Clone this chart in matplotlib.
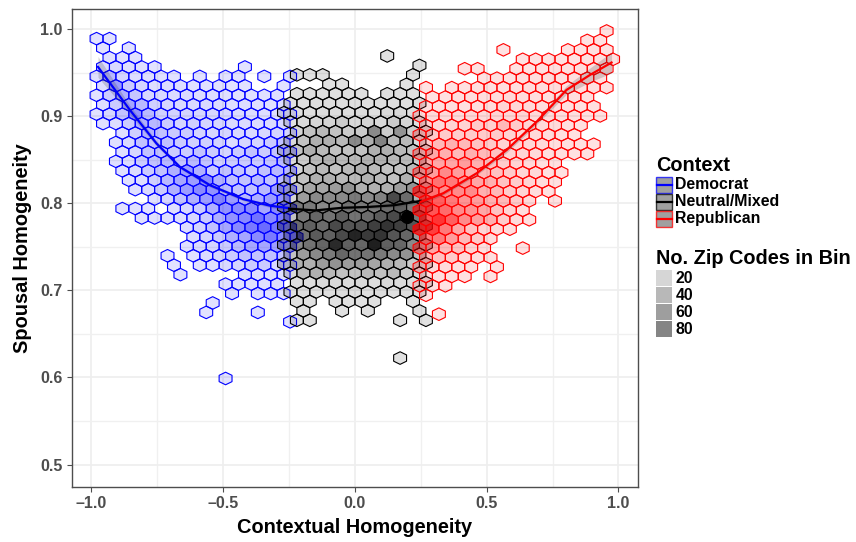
import matplotlib
matplotlib.use("Agg")

import matplotlib.pyplot as plt
import numpy as np
from matplotlib.collections import PolyCollection
from matplotlib.patches import Rectangle

plt.rcParams["font.family"] = ["Liberation Sans", "DejaVu Sans"]
plt.rcParams["font.weight"] = "bold"

# counts per hexagon, one list per bin row from the top, 0 = empty bin
blue_rows = [
    [3, 3],
    [5, 0, 3],
    [0, 8, 5, 3],
    [12, 15, 10, 6, 3, 0, 0, 0, 0, 0, 0, 3],
    [8, 35, 20, 12, 8, 5, 3, 0, 3, 0, 3, 3, 0, 3, 0, 3],
    [10, 50, 25, 18, 10, 12, 10, 8, 5, 6, 5, 4, 0, 0, 5],
    [5, 25, 40, 28, 18, 15, 14, 14, 12, 10, 8, 6, 6, 5, 8],
    [8, 25, 45, 35, 22, 18, 16, 15, 16, 14, 10, 10, 8, 6, 10],
    [3, 18, 30, 55, 35, 22, 20, 20, 18, 18, 15, 14, 12, 10, 10, 8],
    [4, 10, 25, 40, 35, 25, 20, 22, 18, 18, 15, 14, 12, 14, 18],
    [0, 0, 10, 22, 40, 30, 25, 25, 20, 18, 18, 15, 14, 15, 20, 18],
    [0, 5, 15, 30, 30, 30, 25, 22, 22, 20, 12, 18, 20, 25, 30],
    [0, 0, 8, 18, 30, 30, 25, 25, 30, 25, 20, 25, 30, 25, 30, 30],
    [0, 6, 12, 25, 30, 35, 30, 35, 30, 22, 25, 25, 25, 30, 35],
    [0, 0, 4, 12, 25, 30, 40, 50, 40, 25, 30, 28, 25, 30, 35, 35],
    [0, 0, 4, 10, 22, 35, 45, 50, 60, 40, 30, 30, 35, 30, 35],
    [0, 0, 0, 4, 15, 25, 40, 50, 60, 55, 35, 30, 30, 35, 50, 40],
    [0, 0, 0, 0, 6, 18, 30, 40, 50, 65, 50, 35, 40, 50, 55],
    [0, 0, 3, 3, 3, 0, 8, 15, 25, 40, 55, 60, 60, 45, 60, 60],
    [0, 0, 0, 3, 4, 6, 10, 18, 25, 40, 55, 60, 75, 60, 70],
    [0, 0, 0, 0, 0, 0, 0, 10, 20, 30, 45, 60, 70, 80, 75, 65],
    [0, 0, 0, 0, 0, 0, 0, 8, 18, 25, 40, 45, 60, 70, 60, 70],
    [0, 0, 0, 0, 0, 0, 0, 8, 15, 20, 25, 35, 45, 45, 50, 45],
    [0, 0, 0, 0, 0, 3, 0, 6, 12, 18, 25, 30, 30, 30, 30],
    [0, 0, 0, 0, 0, 0, 3, 0, 5, 10, 15, 20, 25, 25, 15, 10],
    [0, 0, 0, 0, 0, 0, 3, 0, 0, 0, 0, 8, 10, 10, 8],
    [0, 0, 0, 0, 0, 0, 0, 0, 0, 0, 5, 6, 8, 8, 8],
    [0, 0, 0, 0, 0, 0, 0, 0, 0, 0, 4, 0, 5, 5, 5],
    [0, 0, 0, 0, 0, 0, 0, 0, 0, 3],
    [0, 0, 0, 0, 0, 0, 0, 0, 3, 0, 0, 0, 3],
    [0, 0, 0, 0, 0, 0, 0, 0, 0, 0, 0, 0, 0, 0, 0, 3],
    [], [], [], [], [],
    [0, 0, 0, 0, 0, 0, 0, 0, 0, 0, 3],
]

black_rows = [
    [0, 0, 0, 0, 0, 0, 0, 0, 5],
    [0, 0, 0, 0, 0, 0, 0, 0, 0, 0, 5],
    [0, 5, 5, 5, 0, 0, 0, 0, 0, 0, 5],
    [0, 0, 0, 5, 5, 0, 0, 0, 0, 5],
    [0, 8, 8, 8, 8, 8, 8, 0, 8, 8, 8],
    [3, 8, 10, 10, 10, 8, 8, 8, 8, 8, 8],
    [5, 8, 10, 12, 12, 10, 12, 10, 14, 15, 10],
    [5, 15, 18, 20, 25, 15, 20, 15, 25, 20, 10],
    [0, 20, 30, 35, 30, 25, 25, 60, 25, 55, 25, 15],
    [15, 30, 40, 40, 35, 60, 40, 65, 35, 35, 15],
    [15, 30, 40, 35, 30, 30, 30, 40, 40, 35, 30, 15],
    [12, 25, 35, 40, 35, 35, 40, 40, 35, 35, 25],
    [0, 20, 30, 35, 30, 35, 40, 35, 30, 30, 35, 20],
    [15, 30, 40, 40, 35, 35, 40, 35, 30, 40, 20],
    [20, 30, 45, 45, 50, 55, 40, 40, 40, 50, 55, 25],
    [20, 50, 60, 60, 60, 70, 60, 65, 110, 80, 40],
    [25, 70, 70, 60, 60, 75, 70, 70, 80, 90, 70, 40],
    [30, 70, 85, 75, 90, 75, 80, 95, 110, 100, 70],
    [40, 80, 90, 80, 110, 100, 100, 120, 130, 120, 100, 60],
    [35, 75, 95, 90, 110, 145, 125, 130, 100, 85, 50],
    [30, 60, 75, 85, 140, 90, 85, 150, 90, 85, 60, 30],
    [30, 50, 60, 70, 85, 75, 75, 70, 60, 55, 30],
    [25, 40, 40, 50, 55, 50, 50, 45, 40, 35, 25, 15],
    [15, 35, 40, 35, 30, 30, 35, 30, 35, 25, 15],
    [0, 10, 10, 15, 15, 12, 15, 12, 15, 12, 10, 8],
    [8, 10, 8, 10, 12, 10, 8, 12, 8, 10, 8],
    [0, 5, 5, 0, 5, 5, 5, 5, 0, 0, 5],
    [0, 5, 0, 0, 5, 0, 5, 0, 0, 0, 5],
    [0, 5, 5, 0, 0, 0, 0, 0, 0, 5, 0, 5],
    [], [], [],
    [0, 0, 0, 0, 0, 0, 0, 0, 0, 5],
]

red_rows = [
    [0, 0, 0, 0, 0, 0, 0, 0, 0, 0, 0, 0, 0, 0, 8],
    [0, 0, 0, 0, 0, 0, 0, 0, 0, 0, 0, 0, 0, 5, 5],
    [0, 0, 0, 0, 0, 0, 3, 0, 0, 0, 0, 3, 5, 6, 5],
    [0, 0, 0, 0, 0, 0, 0, 0, 5, 5, 5, 5, 5, 8, 8, 5],
    [0, 0, 0, 3, 3, 0, 0, 5, 5, 8, 8, 8, 12, 8, 12],
    [0, 0, 0, 0, 0, 3, 5, 5, 10, 10, 12, 8, 8, 10, 6],
    [3, 0, 3, 5, 8, 8, 10, 10, 12, 12, 12, 8, 8, 10, 6],
    [0, 5, 5, 8, 10, 10, 12, 15, 12, 12, 10, 8, 10, 6],
    [10, 8, 10, 10, 10, 12, 18, 18, 15, 12, 10, 8, 8, 6],
    [15, 15, 15, 15, 18, 15, 20, 18, 20, 15, 12, 10, 8, 6, 5],
    [20, 15, 20, 20, 25, 22, 35, 25, 20, 15, 12, 10, 6],
    [30, 25, 25, 25, 25, 25, 25, 20, 18, 15, 12, 8, 6],
    [25, 35, 40, 35, 30, 25, 20, 20, 18, 15, 10, 8, 6, 5],
    [35, 45, 40, 35, 40, 35, 30, 20, 20, 15, 10, 8, 6, 6],
    [40, 45, 45, 50, 40, 30, 25, 20, 15, 10, 5],
    [45, 50, 60, 50, 40, 35, 30, 25, 20, 15, 8, 5],
    [60, 75, 70, 55, 45, 40, 30, 25, 20, 12, 6],
    [95, 75, 60, 60, 60, 40, 35, 25, 20, 12, 5],
    [110, 90, 70, 55, 50, 40, 35, 25, 15, 0, 4],
    [90, 100, 80, 60, 55, 45, 30, 20, 10],
    [100, 130, 90, 60, 50, 40, 25, 12, 5],
    [110, 120, 70, 45, 30, 20, 12, 8],
    [70, 70, 50, 35, 25, 12],
    [55, 45, 35, 30, 20, 8, 0, 0, 4],
    [35, 30, 25, 15, 10, 6],
    [25, 15, 15, 10, 6, 0, 4],
    [10, 10, 8, 5, 0, 4],
    [8, 8, 5],
    [5],
    [],
    [0, 3],
]

# smoothers, one per context
blue_x = [-0.975, -0.854, -0.753, -0.664, -0.55, -0.424, -0.323, -0.247]
blue_y = [0.957, 0.9075, 0.869, 0.842, 0.821, 0.805, 0.7975, 0.7945]
blue_se = [0.012, 0.005, 0.003, 0.002, 0.002, 0.002, 0.002, 0.003]

black_x = [-0.25, -0.15, -0.05, 0.05, 0.15, 0.25]
black_y = [0.794, 0.792, 0.795, 0.796, 0.798, 0.803]
black_se = [0.003, 0.002, 0.002, 0.002, 0.002, 0.003]

red_x = [0.25, 0.335, 0.462, 0.576, 0.69, 0.803, 0.892, 0.974]
red_y = [0.802, 0.8117, 0.8347, 0.8615, 0.894, 0.9305, 0.9477, 0.962]
red_se = [0.003, 0.002, 0.002, 0.003, 0.003, 0.005, 0.008, 0.012]

mean_x = [0.196]
mean_y = [0.785]

x_ticks = [-1.0, -0.5, 0.0, 0.5, 1.0]
x_labels = ["\u20131.0", "\u20130.5", "0.0", "0.5", "1.0"]
y_ticks = [0.5, 0.6, 0.7, 0.8, 0.9, 1.0]

context_labels = ["Democrat", "Neutral/Mixed", "Republican"]
context_colors = ["#0000ff", "#000000", "#ff0000"]
count_labels = [20, 40, 60, 80]
count_key_grey = ["#d6d6d6", "#b8b8b8", "#9e9e9e", "#858585"]

# bin grid: width and row pitch in data units
DX = 0.04896
DY = 0.01085


def count_alpha(n):
    return np.interp(n, [1, 10, 20, 40, 60, 80, 150],
                     [0.11, 0.13, 0.17, 0.31, 0.46, 0.58, 0.88])


def hex_layer(ax, rows, x0, y0, odd_shift, color):
    """
    Draw one context's bins. Odd rows are moved by odd_shift bin widths.
    """

    polys = []
    alphas = []

    for r, row in enumerate(rows):
        for i, n in enumerate(row):
            if n == 0:
                continue
            cx = x0 + i * DX + (odd_shift * DX if r % 2 else 0)
            cy = y0 - r * DY
            polys.append([
                (cx, cy + DY * 2 / 3),
                (cx + DX / 2, cy + DY / 3),
                (cx + DX / 2, cy - DY / 3),
                (cx, cy - DY * 2 / 3),
                (cx - DX / 2, cy - DY / 3),
                (cx - DX / 2, cy + DY / 3),
            ])
            alphas.append(count_alpha(n))

    rgb = matplotlib.colors.to_rgb(color)
    faces = [(rgb[0], rgb[1], rgb[2], a) for a in alphas]

    ax.add_collection(PolyCollection(
        polys,
        facecolors=faces,
        edgecolors=color,
        linewidths=0.8,
        zorder=3
    ))


def smooth_layer(ax, x, y, se, color):
    y = np.array(y)
    se = np.array(se)
    ax.fill_between(x, y - se, y + se, color="#333333", alpha=0.2, lw=0, zorder=4)
    ax.plot(x, y, color=color, linewidth=1.6, zorder=5)


fig = plt.figure(figsize=(8.56, 5.42), dpi=100)
ax = fig.add_axes([71.5 / 856, 1 - 487.3 / 542, (638.3 - 71.5) / 856, (487.3 - 8.5) / 542])

ax.set_xlim(-1.0755, 1.0755)
ax.set_ylim(0.4738, 1.0241)

ax.set_xticks(x_ticks)
ax.set_xticklabels(x_labels)
ax.set_yticks(y_ticks)
ax.set_xticks([-0.75, -0.25, 0.25, 0.75], minor=True)
ax.set_yticks([0.55, 0.65, 0.75, 0.85, 0.95], minor=True)

ax.grid(True, which="major", color="#eeeeee", linewidth=1.2, zorder=0)
ax.grid(True, which="minor", color="#f0f0f0", linewidth=1.0, zorder=0)
ax.set_axisbelow(True)

ax.tick_params(axis="both", which="major", labelsize=11.5, labelcolor="#4d4d4d",
               color="#4d4d4d", length=3.5, width=0.8, pad=3)
ax.tick_params(axis="both", which="minor", length=0)

for spine in ax.spines.values():
    spine.set_color("#4d4d4d")
    spine.set_linewidth(1.0)

hex_layer(ax, blue_rows, -0.9804, 0.98946, 0.5, "#0000ff")
hex_layer(ax, black_rows, -0.2691, 0.96954, 0.5, "#000000")
hex_layer(ax, red_rows, 0.2698, 0.99828, -0.5, "#ff0000")

smooth_layer(ax, blue_x, blue_y, blue_se, "#0000ff")
smooth_layer(ax, black_x, black_y, black_se, "#000000")
smooth_layer(ax, red_x, red_y, red_se, "#ff0000")

ax.scatter(mean_x, mean_y, s=90, color="black", linewidths=0, zorder=6)

ax.set_xlabel("Contextual Homogeneity", fontsize=14.4, fontweight="bold", labelpad=4.5)
ax.set_ylabel("Spousal Homogeneity", fontsize=14.4, fontweight="bold", labelpad=6)

# legends, laid out in figure pixels
leg = fig.add_axes([0, 0, 1, 1], facecolor="none")
leg.set_xlim(0, 856)
leg.set_ylim(542, 0)
leg.axis("off")

leg.text(656, 165.5, "Context", fontsize=14.3, va="center", ha="left")

for i, (label, color) in enumerate(zip(context_labels, context_colors)):
    top = 176.5 + i * 17
    leg.add_patch(Rectangle((656.5, top), 16, 16, facecolor="#808080",
                            edgecolor=color, linewidth=1.0, alpha=0.75))
    leg.plot([657.5, 672], [top + 8, top + 8], color=color, linewidth=1.6)
    leg.text(675.5, top + 8, label, fontsize=11.4, va="center", ha="left")

leg.text(656, 258, "No. Zip Codes in Bin", fontsize=14.3, va="center", ha="left")

for i, n in enumerate(count_labels):
    top = 270 + i * 17
    leg.add_patch(Rectangle((656, top), 16, 16, facecolor=count_key_grey[i], linewidth=0))
    leg.text(675.5, top + 8.5, str(n), fontsize=11.4, va="center", ha="left")

fig.savefig("out.png", dpi=100)
